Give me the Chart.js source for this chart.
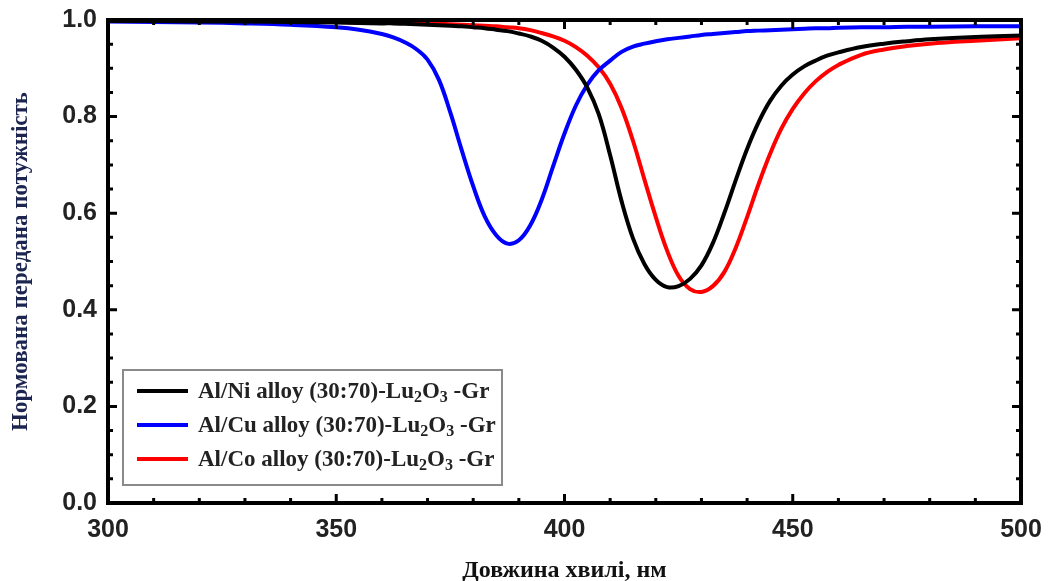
<!DOCTYPE html>
<html>
<head>
<meta charset="utf-8">
<script src="https://cdn.jsdelivr.net/npm/chart.js@4.4.0/dist/chart.umd.min.js"></script>
<style>
  html, body { margin: 0; padding: 0; background: #fff; }
  #wrap { width: 1054px; height: 581px; position: relative; }
</style>
</head>
<body>
<div id="wrap"><canvas id="chart-transmission"></canvas></div>
<script>
// wavelength grid, nm
const wavelength = [300, 310, 320, 330, 340, 350, 355,
  360, 362.5, 365, 367.5, 370, 372.5, 375, 377.5, 380, 382.5, 385, 387.5, 390, 392.5, 395, 397.5,
  400, 402.5, 405, 407.5, 410, 412.5, 415, 417.5, 420, 422.5, 425, 427.5, 430, 432.5, 435, 437.5,
  440, 442.5, 445, 447.5, 450, 452.5, 455, 457.5, 460,
  465, 470, 475, 480, 490, 500];

const alNi = [0.998, 0.998, 0.997, 0.997, 0.996, 0.995, 0.994,
  0.993, 0.993, 0.992, 0.991, 0.990, 0.989, 0.988, 0.987, 0.985, 0.983, 0.980, 0.977, 0.972, 0.966, 0.957, 0.943,
  0.924, 0.897, 0.860, 0.805, 0.720, 0.625, 0.548, 0.495, 0.462, 0.447, 0.449, 0.464, 0.492, 0.538, 0.600, 0.668,
  0.733, 0.788, 0.832, 0.864, 0.887, 0.904, 0.916, 0.926, 0.933,
  0.944, 0.951, 0.956, 0.960, 0.965, 0.968];

const alCu = [0.997, 0.996, 0.995, 0.993, 0.990, 0.985, 0.980,
  0.971, 0.964, 0.954, 0.940, 0.918, 0.876, 0.808, 0.730, 0.656, 0.594, 0.555, 0.537, 0.544, 0.575, 0.628, 0.697,
  0.765, 0.823, 0.866, 0.896, 0.916, 0.934, 0.945, 0.951, 0.956, 0.960, 0.963, 0.966, 0.969, 0.971, 0.973, 0.975,
  0.977, 0.978, 0.979, 0.980, 0.981, 0.982, 0.983, 0.983, 0.984,
  0.985, 0.985, 0.986, 0.986, 0.987, 0.987];

const alCo = [0.998, 0.998, 0.998, 0.997, 0.997, 0.996, 0.995,
  0.995, 0.994, 0.994, 0.993, 0.993, 0.992, 0.991, 0.990, 0.989, 0.988, 0.987, 0.985, 0.983, 0.979, 0.973, 0.966,
  0.957, 0.944, 0.926, 0.902, 0.868, 0.818, 0.750, 0.670, 0.592, 0.522, 0.470, 0.443, 0.437, 0.449, 0.478, 0.528,
  0.592, 0.660, 0.722, 0.775, 0.816, 0.848, 0.873, 0.892, 0.907,
  0.928, 0.939, 0.946, 0.951, 0.957, 0.962];

const seriesNames = ['Al/Ni alloy (30:70)-Lu', 'Al/Cu alloy (30:70)-Lu', 'Al/Co alloy (30:70)-Lu'];
const seriesColors = ['#000000', '#0000ff', '#ff0000'];
const xTicks = [300, 350, 400, 450, 500];
const yTicks = [0.0, 0.2, 0.4, 0.6, 0.8, 1.0];

const toPoints = arr => wavelength.map((w, i) => ({ x: w, y: arr[i] }));

// frame with inward major/minor ticks on all four sides
const framePlugin = {
  id: 'frame',
  afterDatasetsDraw(chart) {
    const { ctx, chartArea: a, scales: { x, y } } = chart;
    ctx.save();
    ctx.strokeStyle = '#000';
    ctx.lineWidth = 3;
    ctx.beginPath();
    for (let v = 300; v <= 500; v += 10) {
      const px = x.getPixelForValue(v);
      const len = v % 50 === 0 ? 9 : 5;
      ctx.moveTo(px, a.bottom); ctx.lineTo(px, a.bottom - len);
      ctx.moveTo(px, a.top); ctx.lineTo(px, a.top + len);
    }
    for (let k = 0; k <= 20; k++) {
      const py = y.getPixelForValue(k * 0.05);
      const len = k % 4 === 0 ? 9 : 5;
      ctx.moveTo(a.left, py); ctx.lineTo(a.left + len, py);
      ctx.moveTo(a.right, py); ctx.lineTo(a.right - len, py);
    }
    ctx.stroke();
    ctx.lineWidth = 4;
    ctx.strokeRect(a.left, a.top, a.right - a.left, a.bottom - a.top);
    ctx.restore();
  }
};

// boxed legend with subscripts
const legendPlugin = {
  id: 'boxLegend',
  afterDraw(chart) {
    const { ctx } = chart;
    ctx.save();
    ctx.strokeStyle = '#8a8a8a';
    ctx.lineWidth = 2;
    ctx.strokeRect(123, 370, 379, 115);
    chart.data.datasets.forEach((ds, i) => {
      const yy = 391 + i * 34;
      ctx.strokeStyle = ds.borderColor;
      ctx.lineWidth = 4;
      ctx.beginPath(); ctx.moveTo(137, yy); ctx.lineTo(188, yy); ctx.stroke();
      ctx.fillStyle = '#222';
      ctx.textBaseline = 'alphabetic';
      let tx = 198;
      const base = yy + 7;
      const big = 'bold 23px "Liberation Serif", "Times New Roman", serif';
      const small = 'bold 16px "Liberation Serif", "Times New Roman", serif';
      const parts = [[seriesNames[i], big, 0], ['2', small, 4], ['O', big, 0], ['3', small, 4], [' -Gr', big, 0]];
      parts.forEach(([t, f, dy]) => {
        ctx.font = f;
        ctx.fillText(t, tx, base + dy);
        tx += ctx.measureText(t).width;
      });
    });
    ctx.restore();
  }
};

new Chart(document.getElementById('chart-transmission').getContext('2d'), {
  type: 'line',
  data: {
    datasets: [
      { label: seriesNames[0], data: toPoints(alNi), borderColor: seriesColors[0] },
      { label: seriesNames[1], data: toPoints(alCu), borderColor: seriesColors[1] },
      { label: seriesNames[2], data: toPoints(alCo), borderColor: seriesColors[2] }
    ]
  },
  options: {
    responsive: true,
    maintainAspectRatio: false,
    animation: false,
    layout: { padding: { left: 0, right: 33, top: 20, bottom: 0 } },
    elements: {
      point: { radius: 0 },
      line: { borderWidth: 4, tension: 0.4, fill: false }
    },
    plugins: { legend: { display: false }, tooltip: { enabled: false } },
    scales: {
      x: {
        type: 'linear', min: 300, max: 500,
        afterBuildTicks: s => { s.ticks = xTicks.map(v => ({ value: v })); },
        afterFit: s => { s.height = 78; },
        grid: { display: false, drawTicks: false },
        border: { display: false },
        ticks: {
          padding: 12, color: '#222',
          font: { family: '"Liberation Sans", Arial, sans-serif', size: 25, weight: 'bold' }
        },
        title: {
          display: true, text: 'Довжина хвилі, нм', color: '#111',
          padding: { top: 0, bottom: -4 },
          font: { family: '"Liberation Serif", "Times New Roman", serif', size: 24, weight: 'bold' }
        }
      },
      y: {
        min: 0, max: 1,
        afterBuildTicks: s => { s.ticks = yTicks.map(v => ({ value: v })); },
        afterFit: s => { s.width = 108; s.paddingTop = 0; s.paddingBottom = 0; },
        grid: { display: false, drawTicks: false },
        border: { display: false },
        ticks: {
          padding: 11, color: '#222',
          callback: v => v.toFixed(1),
          font: { family: '"Liberation Sans", Arial, sans-serif', size: 25, weight: 'bold', lineHeight: 1 }
        },
        title: {
          display: true, text: 'Нормована передана потужність', color: '#1c2550',
          padding: { top: 7, bottom: 0 },
          font: { family: '"Liberation Serif", "Times New Roman", serif', size: 23, weight: 'bold' }
        }
      }
    }
  },
  plugins: [framePlugin, legendPlugin]
});
</script>
</body>
</html>
